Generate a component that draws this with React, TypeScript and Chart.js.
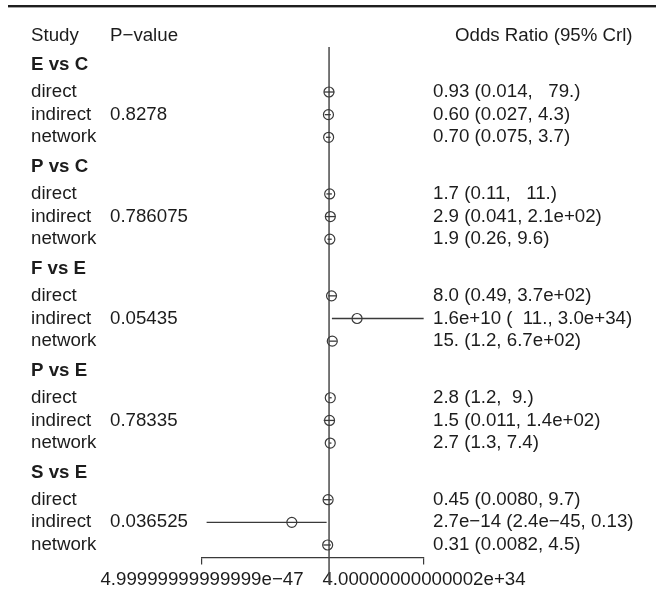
import React, { useEffect, useRef } from "react";
import { Chart, registerables } from "chart.js";

Chart.register(...registerables);

// ---------- data ----------
const groups = ["E vs C", "P vs C", "F vs E", "P vs E", "S vs E"];
const studyTypes = ["direct", "indirect", "network"];
const pValues = ["0.8278", "0.786075", "0.05435", "0.78335", "0.036525"];

const estimates = [
  [0.93, 0.6, 0.7],
  [1.7, 2.9, 1.9],
  [8.0, 1.6e10, 15],
  [2.8, 1.5, 2.7],
  [0.45, 2.7e-14, 0.31],
];
const lowers = [
  [0.014, 0.027, 0.075],
  [0.11, 0.041, 0.26],
  [0.49, 11, 1.2],
  [1.2, 0.011, 1.3],
  [0.008, 2.4e-45, 0.0082],
];
const uppers = [
  [79, 4.3, 3.7],
  [11, 210, 9.6],
  [370, 3.0e34, 670],
  [9, 140, 7.4],
  [9.7, 0.13, 4.5],
];
const orLabels = [
  ["0.93 (0.014,   79.)", "0.60 (0.027, 4.3)", "0.70 (0.075, 3.7)"],
  ["1.7 (0.11,   11.)", "2.9 (0.041, 2.1e+02)", "1.9 (0.26, 9.6)"],
  ["8.0 (0.49, 3.7e+02)", "1.6e+10 (  11., 3.0e+34)", "15. (1.2, 6.7e+02)"],
  ["2.8 (1.2,  9.)", "1.5 (0.011, 1.4e+02)", "2.7 (1.3, 7.4)"],
  ["0.45 (0.0080, 9.7)", "2.7e\u221214 (2.4e\u221245, 0.13)", "0.31 (0.0082, 4.5)"],
];
const headerLabels = ["Study", "P\u2212value", "Odds Ratio (95% CrI)".replace("CrI", "Crl")];
const xTickValues = [4.99999999999999e-47, 4.00000000000002e34];
const xTickLabels = ["4.99999999999999e\u221247", "4.00000000000002e+34"];
const refValue = 1;

// ---------- layout helpers ----------
const GROUP_STEP = 4.5;
const rowPos = (gi: number, ti: number) => gi * GROUP_STEP + ti;
const groupHeaderPos = (gi: number) => gi * GROUP_STEP - 1.2;
const columnHeaderPos = -2.5;

const FONT = '"Liberation Sans", Arial, Helvetica, sans-serif';
const FONT_SIZE = 18.7;
const TEXT_COLOR = "#1c1c1c";
const LINE_COLOR = "#3a3a3a";

const forestPlugin = {
  id: "forestOverlay",
  beforeDraw(chart: any) {
    const ctx = chart.ctx;
    ctx.save();
    ctx.fillStyle = "#1e1e1e";
    ctx.fillRect(8, 5, chart.width - 8, 2.4);
    ctx.restore();
  },
  beforeDatasetsDraw(chart: any) {
    const { ctx, chartArea, scales } = chart;
    const x = scales.x;
    const y = scales.y;
    ctx.save();
    // reference line at OR = 1
    const xr = x.getPixelForValue(refValue);
    ctx.strokeStyle = "#4a4a4a";
    ctx.lineWidth = 1.5;
    ctx.beginPath();
    ctx.moveTo(xr, chartArea.top);
    ctx.lineTo(xr, chartArea.bottom + 27);
    ctx.stroke();
    // credible intervals
    ctx.strokeStyle = LINE_COLOR;
    ctx.lineWidth = 1.3;
    groups.forEach((_, gi) =>
      studyTypes.forEach((__, ti) => {
        const yy = y.getPixelForValue(rowPos(gi, ti));
        ctx.beginPath();
        ctx.moveTo(x.getPixelForValue(lowers[gi][ti]), yy);
        ctx.lineTo(x.getPixelForValue(uppers[gi][ti]), yy);
        ctx.stroke();
      })
    );
    ctx.restore();
  },
  afterDraw(chart: any) {
    const { ctx, scales } = chart;
    const y = scales.y;
    ctx.save();
    ctx.fillStyle = TEXT_COLOR;
    ctx.textBaseline = "middle";
    ctx.textAlign = "left";
    const normal = `${FONT_SIZE}px ${FONT}`;
    const bold = `bold ${FONT_SIZE}px ${FONT}`;
    ctx.font = normal;
    const yh = y.getPixelForValue(columnHeaderPos);
    ctx.fillText(headerLabels[0], 31, yh);
    ctx.fillText(headerLabels[1], 110, yh);
    ctx.fillText(headerLabels[2], 455, yh);
    groups.forEach((g, gi) => {
      ctx.font = bold;
      ctx.fillText(g, 31, y.getPixelForValue(groupHeaderPos(gi)));
      ctx.font = normal;
      studyTypes.forEach((t, ti) => {
        const yy = y.getPixelForValue(rowPos(gi, ti));
        ctx.fillText(t, 31, yy);
        if (t === "indirect") ctx.fillText(pValues[gi], 110, yy);
        ctx.fillText(orLabels[gi][ti], 433, yy);
      });
    });
    ctx.restore();
  },
};

export default function App() {
  const ref = useRef<HTMLCanvasElement>(null);
  useEffect(() => {
    if (!ref.current) return;
    const points: { x: number; y: number }[] = [];
    groups.forEach((_, gi) =>
      studyTypes.forEach((__, ti) => points.push({ x: estimates[gi][ti], y: rowPos(gi, ti) }))
    );
    const chart = new Chart(ref.current, {
      type: "scatter",
      data: {
        datasets: [
          {
            data: points,
            pointRadius: 5,
            pointHoverRadius: 5,
            pointBorderWidth: 1.2,
            pointBorderColor: LINE_COLOR,
            pointBackgroundColor: "rgba(0,0,0,0)",
            showLine: false,
          },
        ],
      },
      options: {
        animation: false,
        responsive: false,
        events: [],
        layout: { padding: { left: 202, right: 232, top: 47, bottom: 5 } },
        plugins: { legend: { display: false }, tooltip: { enabled: false }, title: { display: false } },
        scales: {
          x: {
            type: "logarithmic",
            min: xTickValues[0],
            max: xTickValues[1],
            bounds: "data",
            afterBuildTicks: (scale: any) => {
              scale.ticks = xTickValues.map((v) => ({ value: v }));
            },
            grid: {
              drawOnChartArea: false,
              drawTicks: true,
              tickLength: 7,
              color: LINE_COLOR,
              lineWidth: 1.2,
            },
            border: { display: true, color: LINE_COLOR, width: 1.2 },
            ticks: {
              autoSkip: false,
              maxRotation: 0,
              minRotation: 0,
              padding: 4,
              color: TEXT_COLOR,
              font: { family: FONT, size: FONT_SIZE },
              callback: (_v: any, i: number) => xTickLabels[i],
            },
          },
          y: {
            type: "linear",
            display: false,
            reverse: true,
            min: -1.987,
            max: 20.555,
          },
        },
      },
      plugins: [forestPlugin],
    } as any);
    return () => chart.destroy();
  }, []);
  return (
    <div
      style={{
        position: "fixed",
        left: 0,
        top: 0,
        width: 656,
        height: 591,
        overflow: "hidden",
        background: "#fff",
      }}
    >
      <canvas ref={ref} width={656} height={600} style={{ display: "block", width: 656, height: 600 }} />
    </div>
  );
}
